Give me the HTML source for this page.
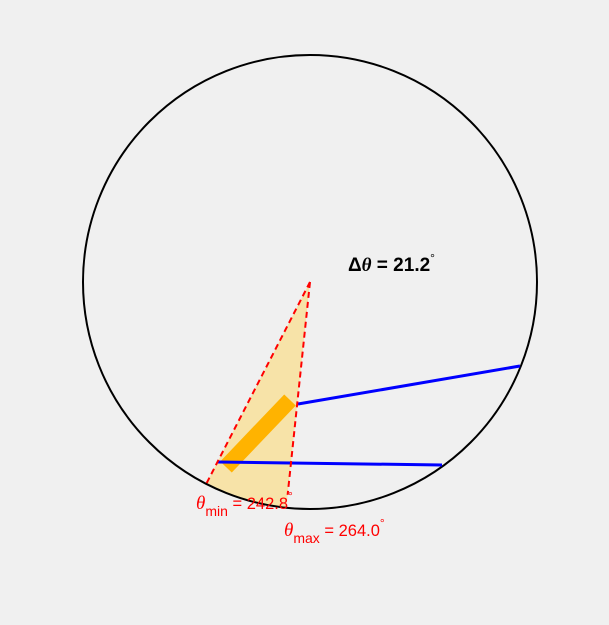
<!DOCTYPE html>
<html><head><meta charset="utf-8"><style>
html,body{margin:0;padding:0;background:#f0f0f0;}
svg{display:block;font-family:"Liberation Sans",sans-serif;}
</style></head><body>
<svg width="609" height="625">
<g id="g"></g>
</svg>
<script>
const thetas=[242.8,264.0];
const deltaTheta=[21.2];
const rays=[[298,404,520,366],[218,462,442,465]];
const cx=310,cy=282,R=227;
const NS="http://www.w3.org/2000/svg";
const g=document.getElementById('g');
function mk(t,a,name){const e=document.createElementNS(NS,t);for(const k in a)e.setAttribute(k,a[k]);


g.appendChild(e);return e;}
function pt(th,r){const a=th*Math.PI/180;return [cx+r*Math.cos(a),cy-r*Math.sin(a)];}
const p1=pt(thetas[0],R),p2=pt(thetas[1],R);
mk('path',{d:`M${cx},${cy} L${p1[0]},${p1[1]} A${R},${R} 0 0 0 ${p2[0]},${p2[1]} Z`,fill:'#f7e3a8',stroke:'none'},'wedge-fill');
mk('circle',{cx:cx,cy:cy,r:R,fill:'none',stroke:'#000','stroke-width':2},'circle');
mk('line',{x1:226,y1:467,x2:290,y2:400,stroke:'#ffb300','stroke-width':16},'orange-segment');
rays.forEach((r,i)=>{mk('line',{x1:r[0],y1:r[1],x2:r[2],y2:r[3],stroke:'#0000ff','stroke-width':3},'blue-ray-'+i);});
const e1=pt(thetas[0],226),e2=pt(thetas[1],214);
mk('line',{x1:cx,y1:cy,x2:e1[0],y2:e1[1],stroke:'#ff0000','stroke-width':2,'stroke-dasharray':'6,4'},'theta-min-line');
mk('line',{x1:cx,y1:cy,x2:e2[0],y2:e2[1],stroke:'#ff0000','stroke-width':2,'stroke-dasharray':'6,4'},'theta-max-line');
const t1=mk('text',{x:348,y:271,'font-size':19,'font-weight':'bold',fill:'#000'},'delta-theta-label');
t1.innerHTML='Δ<tspan font-style="italic" font-family="Liberation Serif">θ</tspan> = '+deltaTheta[0].toFixed(1)+'<tspan dy="-9" font-size="12" font-weight="normal">°</tspan>';
const t2=mk('text',{x:196,y:509,'font-size':16.5,fill:'#ff0000'},'theta-min-label');
t2.innerHTML='<tspan font-style="italic" font-family="Liberation Serif" font-size="19">θ</tspan><tspan dy="7" font-size="14">min</tspan><tspan dy="-7"> = '+thetas[0].toFixed(1)+'</tspan><tspan dy="-9" font-size="12">°</tspan>';
const t3=mk('text',{x:284,y:536,'font-size':16.5,fill:'#ff0000'},'theta-max-label');
t3.innerHTML='<tspan font-style="italic" font-family="Liberation Serif" font-size="19">θ</tspan><tspan dy="7" font-size="14">max</tspan><tspan dy="-7"> = '+thetas[1].toFixed(1)+'</tspan><tspan dy="-9" font-size="12">°</tspan>';
</script>
</body></html>
